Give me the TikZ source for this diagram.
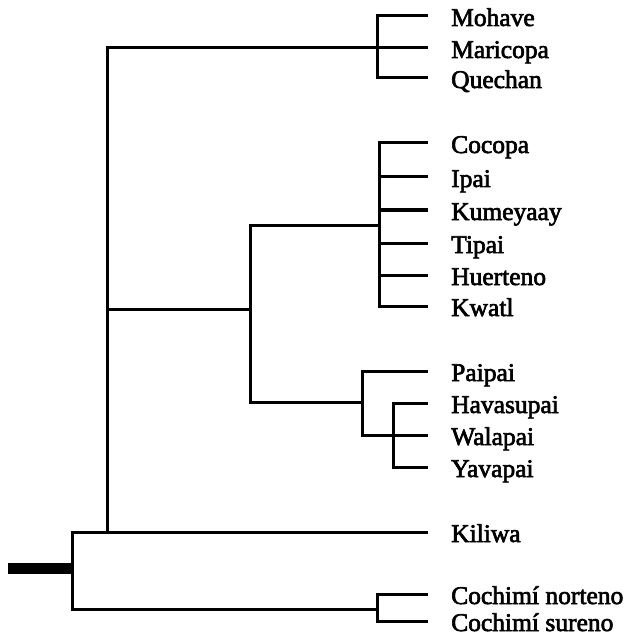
\documentclass[tikz,border=0pt]{standalone}
\usepackage{fontspec}
\setmainfont{Liberation Serif}
\newfontfamily\lblfont[BoldFont={Liberation Serif},BoldFeatures={FakeBold=2.5}]{Liberation Serif}
\begin{document}
\begin{tikzpicture}[x=1pt,y=-1pt,
  br/.style={line width=3pt,line cap=rect,line join=miter},
  lbl/.style={anchor=west,inner sep=0pt,text height=20pt,text depth=0pt,
    font=\lblfont\bfseries\fontsize{25.5}{30}\selectfont}]
\useasboundingbox (0,0) rectangle (630,636);
% labels
\foreach \n/\t/\y in {mohave/Mohave/16, maricopa/Maricopa/48, quechan/Quechan/78,
  cocopa/Cocopa/143, ipai/Ipai/177, kumeyaay/Kumeyaay/210, tipai/Tipai/243,
  huerteno/Huerteno/275, kwatl/Kwatl/306,
  paipai/Paipai/371, havasupai/Havasupai/403, walapai/Walapai/435, yavapai/Yavapai/467,
  kiliwa/Kiliwa/532, norteno/Cochimí norteno/594, sureno/Cochimí sureno/621}
  \node[lbl] (\n) at (451,\y) {\t};
% junction coordinates
\coordinate (r0) at (8,568);
\coordinate (r1) at (72,568);
\coordinate (rt) at (72,532);
\coordinate (rb) at (72,609);
\coordinate (m0) at (107,532);
\coordinate (mt) at (107,48);
\coordinate (mm) at (107,309);
\coordinate (qj) at (377,48);
\coordinate (qt) at (377,16);
\coordinate (qb) at (377,78);
\coordinate (c0) at (250,309);
\coordinate (ct) at (250,225);
\coordinate (cb) at (250,402);
\coordinate (kj) at (379,225);
\coordinate (kt) at (379,143);
\coordinate (kb) at (379,306);
\coordinate (pj) at (362,402);
\coordinate (pt) at (362,371);
\coordinate (pb) at (362,435);
\coordinate (ht) at (393,403);
\coordinate (hb) at (393,467);
\coordinate (nj) at (377,609);
\coordinate (nt) at (377,594);
\coordinate (nb) at (377,621);
% root
\draw[line width=11pt] (r0) -- (r1);
\draw[br] (rt) -- (rb);
\draw[br] (rt) -- ([xshift=-25pt]kiliwa.west);
\draw[br] (rb) -- (nj);
\draw[br] (nt) -- (nb);
\draw[br] (nt) -- ([xshift=-25pt]norteno.west);
\draw[br] (nb) -- ([xshift=-25pt]sureno.west);
% main stem
\draw[br] (m0) -- (mt);
\draw[br] (mt) -- (qj);
\draw[br] (qt) -- (qb);
\foreach \n/\c in {mohave/qt, maricopa/qj, quechan/qb}
  \draw[br] (\c) -- ([xshift=-25pt]\n.west);
\draw[br] (mm) -- (c0);
\draw[br] (ct) -- (cb);
\draw[br] (ct) -- (kj);
\draw[br] (kt) -- (kb);
\foreach \n in {cocopa, ipai, kumeyaay, tipai, huerteno, kwatl}
  \draw[br] (\n.west -| kt) -- ([xshift=-25pt]\n.west);
\draw[br] (cb) -- (pj);
\draw[br] (pt) -- (pb);
\draw[br] (pt) -- ([xshift=-25pt]paipai.west);
\draw[br] (pb) -- ([xshift=-25pt]walapai.west);
\draw[br] (ht) -- (hb);
\draw[br] (ht) -- ([xshift=-25pt]havasupai.west);
\draw[br] (hb) -- ([xshift=-25pt]yavapai.west);
\end{tikzpicture}
\end{document}
